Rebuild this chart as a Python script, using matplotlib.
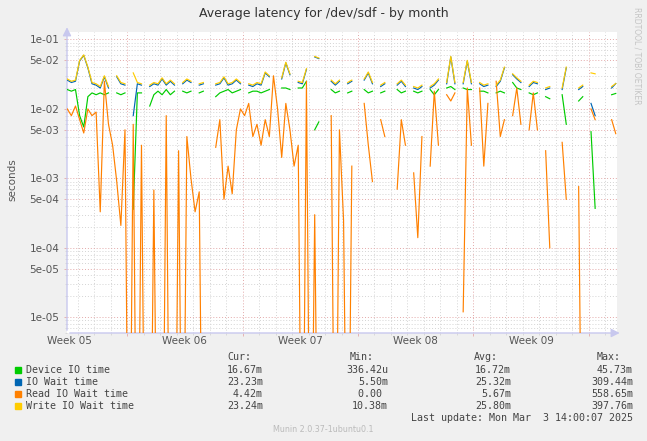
import numpy as np
import matplotlib.pyplot as plt
from matplotlib.transforms import blended_transform_factory

nan = np.nan

# one sample every 6 hours, day 0 = start of week 06
t_first = -3.625
t_step = 0.25

# values in milliseconds (0 = drawn at the bottom of the log axis)
device_ms = [19, 18, 19, 8, 5.5, 15, 17, 16, 17, 16, 17, nan, 17, 16, 17, nan,
             0.36, 17, 17, nan, 11, 16, 18, 16, 19, 16, 18, nan, 18, 17, 18, nan,
             17, 18, nan, nan, 15, 17, 18, 19, 17, 18, 19, nan, 17, 18, 18, 17,
             18, 19, nan, nan, 20, 20, 19, nan, 20, 20, 25, nan, 5, 6.5, nan, nan,
             19, 17, 18, nan, 17, 18, nan, nan, 19, 17, 18, nan, 17, 18, nan, nan,
             19, 17, 18, nan, 18, 17, 18, nan, 19, 16, 19, nan, 20, 21, 19, nan,
             20, 19, 19, nan, 18, 18, 17, nan, 17, 18, 17, nan, 24, 20, 19, nan,
             17, 16, 17, nan, 15, 14, nan, nan, 16, 6, nan, nan, 13, 15, nan, 4.7,
             0.37, nan, nan, nan, 16, 16.7]

iowait_ms = [26, 24, 25, 49, 59, 39, 23, 22, 20, 29, 20, nan, 29, 23, 22, nan,
             8, 23, 22, nan, 21, 23, 22, 27, 22, 25, 22, nan, 23, 26, 24, nan,
             22, 23, nan, nan, 22, 23, 28, 22, 23, 26, 23, nan, 22, 21, 23, 22,
             33, 29, nan, nan, 27, 46, 31, nan, 24, 23, 37, nan, 56, 53, nan, nan,
             25, 22, 25, nan, 23, 25, nan, nan, 26, 33, 23, nan, 21, 23, nan, nan,
             22, 25, 21, nan, 20, 19, 21, nan, 20, 22, 26, nan, 23, 56, 23, nan,
             23, 49, 23, nan, 23, 21, 22, nan, 21, 25, 39, nan, 31, 27, 24, nan,
             21, 24, 23, nan, 19, 20, nan, nan, 19, 39, nan, nan, 19, 21, nan, 12,
             8, nan, nan, nan, 20, 23.2]

read_ms = [10, 8, 11, 7, 4.5, 10, 8, 9, 0.33, 25, 6, 3, 0.9, 0.21, 5, 0,
           6, 0, 3, 0, 0, 0.68, 0, 0, 8, 0, 0, 2.5, 0, 4, 1, 0.33,
           0.64, 0, 0, nan, 2.8, 7, 0.5, 1.5, 0.6, 5, 10, 8, 12, 4, 6, 3,
           7, 4, 30, 10, 2, 12, 5, 1.5, 3, 0, 25, 0, 0.3, 0, nan, nan,
           8, 0, 5, 0.25, 0, 1.5, nan, nan, 12, 3, 0.9, nan, 7, 4, nan, nan,
           0.7, 7, 3, nan, 1.2, 0.14, 4, nan, 1.5, 18, 3, nan, 16, 13, 17, nan,
           0.012, 20, 3, nan, 20, 1.5, 12, nan, 25, 4, 7, nan, 8, 20, 6, nan,
           5, 17, 5, nan, 2.5, 0.1, nan, nan, 3.3, 0.5, nan, nan, 0.76, 0, nan, 10,
           7, nan, nan, nan, 7, 4.4]

write_ms = [27, 25, 26, 50, 60, 40, 24, 23, 21, 30, 21, nan, 30, 24, 23, nan,
            33, 24, 23, nan, 22, 24, 23, 28, 23, 26, 23, nan, 24, 27, 25, nan,
            23, 24, nan, nan, 23, 24, 29, 23, 24, 27, 24, nan, 23, 22, 24, 23,
            34, 30, nan, nan, 28, 47, 32, nan, 25, 24, 38, nan, 57, 54, nan, nan,
            26, 23, 26, nan, 24, 26, nan, nan, 27, 34, 24, nan, 22, 24, nan, nan,
            23, 26, 22, nan, 21, 20, 22, nan, 21, 23, 27, nan, 24, 57, 24, nan,
            24, 50, 24, nan, 24, 22, 23, nan, 22, 26, 40, nan, 32, 28, 25, nan,
            22, 25, 24, nan, 20, 21, nan, nan, 20, 40, nan, nan, 20, 22, nan, 33,
            32, nan, nan, nan, 21, 23.2]

labels = ["Device IO time", "IO Wait time", "Read IO Wait time", "Write IO Wait time"]
colors = ["#00CC00", "#0066B3", "#FF8000", "#FFCC00"]
cur = ["16.67m", "23.23m", "4.42m", "23.24m"]
vmin = ["336.42u", "5.50m", "0.00 ", "10.38m"]
avg = ["16.72m", "25.32m", "5.67m", "25.80m"]
vmax = ["45.73m", "309.44m", "558.65m", "397.76m"]
weeks = ["Week 05", "Week 06", "Week 07", "Week 08", "Week 09"]

W, H = 647, 441
BG = "#F0F0F0"
MAJOR = "#E3A9A9"
MINOR = "#D4D4D4"
AXIS = "#C8C8EE"
YMIN, YMAX = 5.94e-6, 0.128

days = t_first + t_step * np.arange(len(write_ms))


def to_seconds(ms):
    a = np.array(ms, dtype=float) / 1000.0
    a[a <= 0] = 1e-9  # zero on a log axis -> bottom edge
    return a


fig = plt.figure(figsize=(W / 100, H / 100), dpi=100, facecolor=BG)
ax = fig.add_axes([67 / W, (H - 333) / H, 550 / W, 301 / H])
ax.set_facecolor("white")
ax.set_yscale("log")
ax.set_xlim(-3.64, 29.7)
ax.set_ylim(YMIN, YMAX)
for s in ax.spines.values():
    s.set_visible(False)

# --- grid ---
dot = (0, (1, 2))
for d in range(-3, 30):
    ax.axvline(d, color=MAJOR if d % 7 == 0 else MINOR, lw=0.7, ls=dot, zorder=0)
major_y = [1e-5, 5e-5, 1e-4, 5e-4, 1e-3, 5e-3, 1e-2, 5e-2, 1e-1]
minor_y = []
for k in range(-6, 0):
    for m in [2, 3, 4, 6, 7, 8, 9]:
        v = m * 10.0 ** k
        if YMIN < v < YMAX:
            minor_y.append(v)
for v in minor_y:
    ax.axhline(v, color=MINOR, lw=0.7, ls=dot, zorder=0)
for v in major_y:
    ax.axhline(v, color=MAJOR, lw=0.7, ls=dot, zorder=0)

ax.set_yticks(major_y)
ax.set_yticklabels([f"{v:.0e}" for v in major_y])
ax.set_yticks(minor_y, minor=True)
ax.set_xticks([0, 7, 14, 21, 28])
ax.set_xticks(range(-3, 30), minor=True)
ax.set_xticklabels([])
ax.tick_params(axis="both", which="major", length=2.5, width=0.6, color=MAJOR,
               labelsize=7.5, labelcolor="#555555", pad=3)
ax.tick_params(axis="both", which="minor", length=1.5, width=0.6, color=MINOR)

tr = blended_transform_factory(ax.transData, ax.transAxes)
for k, w in enumerate(weeks):
    ax.text(-3.5 + 7 * k, -8 / 301, w, transform=tr, ha="center", va="center",
            fontsize=7.5, color="#555555")

# --- axis lines with arrows ---
ax.annotate("", xy=(0, 1.025), xytext=(0, 0), xycoords="axes fraction",
            arrowprops=dict(arrowstyle="-|>,head_length=0.5,head_width=0.25",
                            color=AXIS, lw=1.0), annotation_clip=False)
ax.annotate("", xy=(1.01, 0), xytext=(0, 0), xycoords="axes fraction",
            arrowprops=dict(arrowstyle="-|>,head_length=0.5,head_width=0.25",
                            color=AXIS, lw=1.0), annotation_clip=False)

# --- data ---
for ms, c in zip([device_ms, iowait_ms, read_ms, write_ms], colors):
    ax.plot(days, to_seconds(ms), color=c, lw=0.85, zorder=3)

# --- texts ---
fig.text(0.5, 1 - 13 / H, "Average latency for /dev/sdf - by month",
         ha="center", va="center", fontsize=9, color="#333333")
fig.text(12 / W, 1 - 180 / H, "seconds", rotation=90, ha="center", va="center",
         fontsize=7.5, color="#555555")
fig.text(637 / W, 1 - 56 / H, "RRDTOOL / TOBI OETIKER", rotation=270,
         ha="center", va="center", fontsize=5.5, color="#C4C4C4")

mono = dict(family="DejaVu Sans Mono", fontsize=7.2, color="#444444", va="center")
for x, h in zip([251, 374, 498, 621], ["Cur:", "Min:", "Avg:", "Max:"]):
    fig.text(x / W, 1 - 357 / H, h, ha="right", **mono)
for r in range(4):
    y = 1 - (370 + 12 * r) / H
    fig.patches.append(plt.Rectangle((15 / W, y - 3 / H), 6 / W, 6 / H,
                                     transform=fig.transFigure, color=colors[r]))
    fig.text(26 / W, y, labels[r], ha="left", **mono)
    for x, vals in zip([263, 388, 511, 633], [cur, vmin, avg, vmax]):
        fig.text(x / W, y, vals[r], ha="right", **mono)
fig.text(633 / W, 1 - 418 / H, "Last update: Mon Mar  3 14:00:07 2025",
         ha="right", **mono)
fig.text(323 / W, 1 - 430 / H, "Munin 2.0.37-1ubuntu0.1", ha="center",
         va="center", fontsize=5.8, color="#BBBBBB")

fig.savefig("out.png", dpi=100, facecolor=BG)
